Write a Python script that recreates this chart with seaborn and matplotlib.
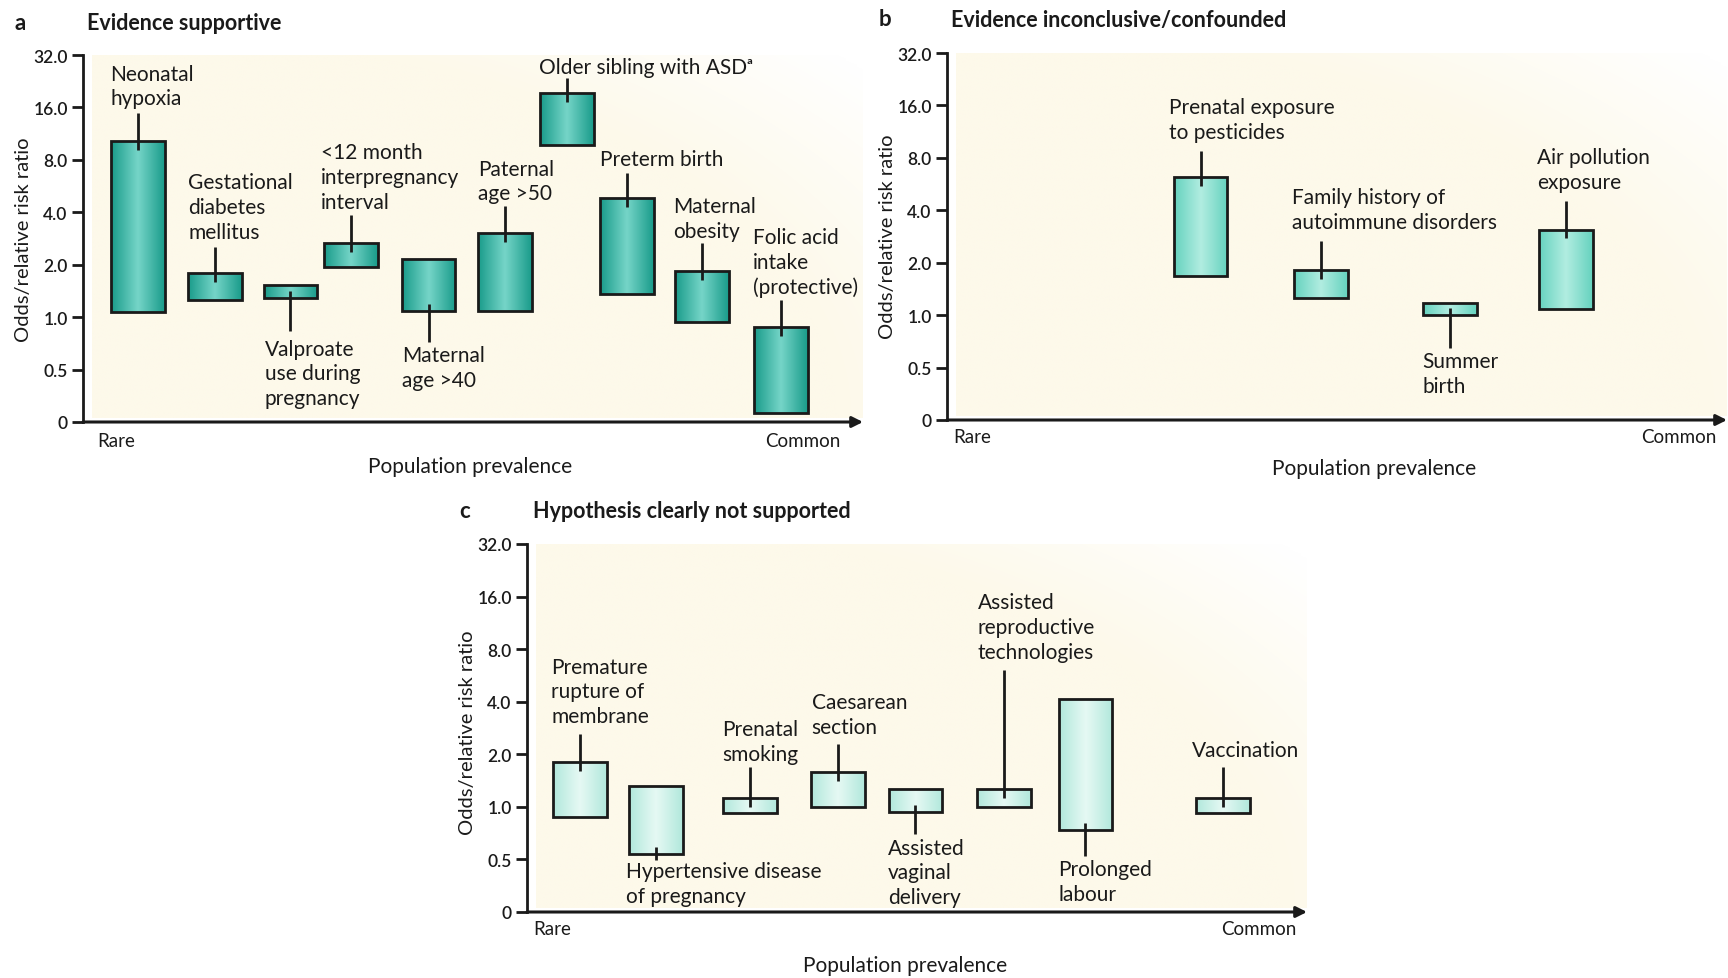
import numpy as np
import pandas as pd
import matplotlib
matplotlib.use("Agg")
import matplotlib.pyplot as plt
import seaborn as sns
from matplotlib.colors import LinearSegmentedColormap

# ---------------- data ----------------
# y tick values (odds / relative risk ratio, log2 scale; "0" sits at the bottom of the axis)
tick_labels = ["0", "0.5", "1.0", "2.0", "4.0", "8.0", "16.0", "32.0"]

# Panel a: Evidence supportive
a_factors = ["Neonatal\nhypoxia", "Gestational\ndiabetes\nmellitus", "Valproate\nuse during\npregnancy",
             "<12 month\ninterpregnancy\ninterval", "Maternal\nage >40", "Paternal\nage >50",
             "Older sibling with ASDᵃ", "Preterm birth", "Maternal\nobesity",
             "Folic acid\nintake\n(protective)"]
a_prevalence = [7.1, 16.9, 26.6, 34.4, 44.3, 54.1, 62.0, 69.7, 79.4, 89.5]
a_low = [1.07, 1.25, 1.29, 1.93, 1.09, 1.09, 9.7, 1.36, 0.94, 0.28]
a_high = [10.2, 1.80, 1.53, 2.67, 2.17, 3.04, 19.3, 4.8, 1.83, 0.88]

# Panel b: Evidence inconclusive/confounded
b_factors = ["Prenatal exposure\nto pesticides", "Family history of\nautoimmune disorders",
             "Summer\nbirth", "Air pollution\nexposure"]
b_prevalence = [32.5, 48.0, 64.5, 79.4]
b_low = [1.67, 1.25, 1.00, 1.09]
b_high = [6.2, 1.82, 1.17, 3.1]

# Panel c: Hypothesis clearly not supported
c_factors = ["Premature\nrupture of\nmembrane", "Hypertensive disease\nof pregnancy",
             "Prenatal\nsmoking", "Caesarean\nsection", "Assisted\nvaginal\ndelivery",
             "Assisted\nreproductive\ntechnologies", "Prolonged\nlabour", "Vaccination"]
c_prevalence = [6.8, 16.5, 28.6, 39.9, 49.8, 61.2, 71.6, 89.2]
c_low = [0.88, 0.54, 0.92, 1.00, 0.94, 1.00, 0.74, 0.92]
c_high = [1.80, 1.31, 1.12, 1.58, 1.27, 1.27, 4.16, 1.12]

# ---------------- layout (label anchors, leader ends; log2 units) ----------------
a_layout = dict(side=["up", "up", "down", "up", "down", "up", "up", "up", "up", "up"],
                lab_x=[3.5, 13.5, 23.3, 30.5, 40.9, 50.7, 58.5, 66.3, 75.7, 85.9],
                lab_y=[3.98, 1.44, -0.41, 2.01, -0.54, 2.17, 4.58, 2.82, 1.46, 0.38],
                lead=[3.885, 1.338, -0.255, 1.955, -0.478, 2.115, 4.554, 2.758, 1.42, 0.331])
b_layout = dict(side=["up", "up", "down", "up"],
                lab_x=[28.4, 44.2, 60.9, 75.6],
                lab_y=[3.31, 1.59, -0.68, 2.35],
                lead=[3.14, 1.42, -0.618, 2.185])
c_layout = dict(side=["up", "down", "up", "up", "down", "up", "down", "up"],
                lab_x=[3.1, 12.7, 25.0, 36.5, 46.3, 57.8, 68.1, 85.3],
                lab_y=[1.535, -1.03, 0.815, 1.325, -0.586, 2.758, -1.0, 0.898],
                lead=[1.39, -1.01, 0.75, 1.197, -0.52, 2.6, -0.936, 0.75])

sns.set_theme(style="white")
plt.rcParams["font.family"] = ["Lato", "DejaVu Sans"]

W, H = 1728, 979
fig = plt.figure(figsize=(W / 100, H / 100), dpi=100)
INK = "#1a1a1a"


def add_axes_px(x0, y_top, x1, y_bot):
    return fig.add_axes([x0 / W, 1 - y_bot / H, (x1 - x0) / W, (y_bot - y_top) / H])


def background(ax):
    n = 300
    u = np.linspace(0, 1, n)
    v = np.linspace(0, 1, n)
    U, V = np.meshgrid(u, v)
    d = np.sqrt((U * 1.0) ** 2 + (V * 0.9) ** 2)
    f = np.clip((1.32 - d) / 0.35, 0, 1)
    cream = np.array([253, 249, 234]) / 255.0
    white = np.array([1.0, 1.0, 1.0])
    img = white[None, None, :] * (1 - f[..., None]) + cream[None, None, :] * f[..., None]
    ax.imshow(img, extent=[0.012, 1, 0.01, 1], transform=ax.transAxes, origin="lower",
              aspect="auto", zorder=0, interpolation="bilinear")


def draw_panel(ax, factors, prev, low, high, layout, edge_col, mid_col, bar_w):
    background(ax)
    df = pd.DataFrame({"prevalence": prev,
                       "bottom": np.log2(low),
                       "span": np.log2(high) - np.log2(low)})
    gap = np.min(np.diff(np.unique(df["prevalence"])))
    sns.barplot(data=df, x="prevalence", y="span", native_scale=True,
                width=bar_w / gap, bottom=df["bottom"].values, errorbar=None,
                color=mid_col, edgecolor=INK, linewidth=2.0, ax=ax)
    cmap = LinearSegmentedColormap.from_list("g", [edge_col, mid_col, edge_col])
    grad = np.linspace(0, 1, 64)[None, :]
    for p in list(ax.patches):
        x0, y0, w, h = p.get_x(), p.get_y(), p.get_width(), p.get_height()
        im = ax.imshow(grad, extent=[x0, x0 + w, y0, y0 + h], cmap=cmap, aspect="auto",
                       origin="lower", zorder=2, interpolation="bicubic")
        im.set_clip_path(p)
        p.set_facecolor("none")
        p.set_zorder(3)
    # labels and leader lines
    for i, lab in enumerate(factors):
        x = prev[i]
        if layout["side"][i] == "up":
            inner = np.log2(high[i]) - 0.17
            va = "bottom"
        else:
            inner = np.log2(low[i]) + 0.13
            va = "top"
        ax.plot([x, x], [layout["lead"][i], inner], color=INK, lw=2.0, zorder=4,
                solid_capstyle="butt")
        ax.text(layout["lab_x"][i], layout["lab_y"][i], lab, ha="left", va=va,
                fontsize=15, color=INK, linespacing=1.3, zorder=5)

    ax.set_xlim(0, 100)
    ax.set_ylim(-2, 5)
    ax.set_yticks(range(-2, 6))
    ax.set_yticklabels(tick_labels)
    ax.set_xticks([])
    ax.set_xlabel("")
    ax.set_ylabel("")
    for s in ["top", "right", "bottom"]:
        ax.spines[s].set_visible(False)
    ax.spines["left"].set_color(INK)
    ax.spines["left"].set_linewidth(2.0)
    ax.tick_params(axis="y", direction="out", length=8, width=2, color=INK,
                   labelsize=12.5, pad=3, labelcolor=INK, left=True)
    for t in ax.get_yticklabels():
        t.set_fontweight("semibold")
    ax.set_facecolor("white")
    ax.annotate("", xy=(1.0, 0), xytext=(0, 0), xycoords="axes fraction",
                arrowprops=dict(arrowstyle="-|>", color=INK, lw=2.2, mutation_scale=16,
                                shrinkA=0, shrinkB=0), annotation_clip=False)


panels = [
    dict(box=(83, 56, 863, 423), f=a_factors, p=a_prevalence, lo=a_low, hi=a_high, lay=a_layout,
         edge="#1a9c8b", mid="#76d5c8", w=6.9, rare=0.018, common=0.971, rc_dy=19,
         letter=("a", 20, 24), title=("Evidence supportive", 87, 24),
         xlab=(470, 467), ylab=(24, 240)),
    dict(box=(947, 54, 1727, 421), f=b_factors, p=b_prevalence, lo=b_low, hi=b_high, lay=b_layout,
         edge="#66d3bf", mid="#b2ede1", w=6.9, rare=0.008, common=0.987, rc_dy=17,
         letter=("b", 885, 20), title=("Evidence inconclusive/confounded", 951, 20),
         xlab=(1374, 469), ylab=(887, 237)),
    dict(box=(527, 545, 1307, 913), f=c_factors, p=c_prevalence, lo=c_low, hi=c_high, lay=c_layout,
         edge="#b2e8dc", mid="#e6f9f4", w=6.9, rare=0.008, common=0.987, rc_dy=17,
         letter=("c", 465, 512), title=("Hypothesis clearly not supported", 533, 512),
         xlab=(905, 966), ylab=(467, 733)),
]

for P in panels:
    x0, yt, x1, yb = P["box"]
    ax = add_axes_px(x0, yt, x1, yb)
    draw_panel(ax, P["f"], P["p"], P["lo"], P["hi"], P["lay"], P["edge"], P["mid"], P["w"])
    hpx = yb - yt
    ax.text(P["rare"], -P["rc_dy"] / hpx, "Rare", transform=ax.transAxes, ha="left",
            va="center", fontsize=13.5, color=INK)
    ax.text(P["common"], -P["rc_dy"] / hpx, "Common", transform=ax.transAxes, ha="right",
            va="center", fontsize=13.5, color=INK)
    l, lx, ly = P["letter"]
    fig.text(lx / W, 1 - ly / H, l, fontsize=16, fontweight="bold", ha="center", va="center",
             color=INK)
    t, tx, ty = P["title"]
    fig.text(tx / W, 1 - ty / H, t, fontsize=15.5, fontweight="bold", ha="left", va="center",
             color=INK)
    fig.text(P["xlab"][0] / W, 1 - P["xlab"][1] / H, "Population prevalence", fontsize=15,
             ha="center", va="center", color=INK)
    fig.text(P["ylab"][0] / W, 1 - P["ylab"][1] / H, "Odds/relative risk ratio", fontsize=14.5,
             ha="center", va="center", rotation=90, color=INK)

fig.savefig("out.png", dpi=100, facecolor="white")
